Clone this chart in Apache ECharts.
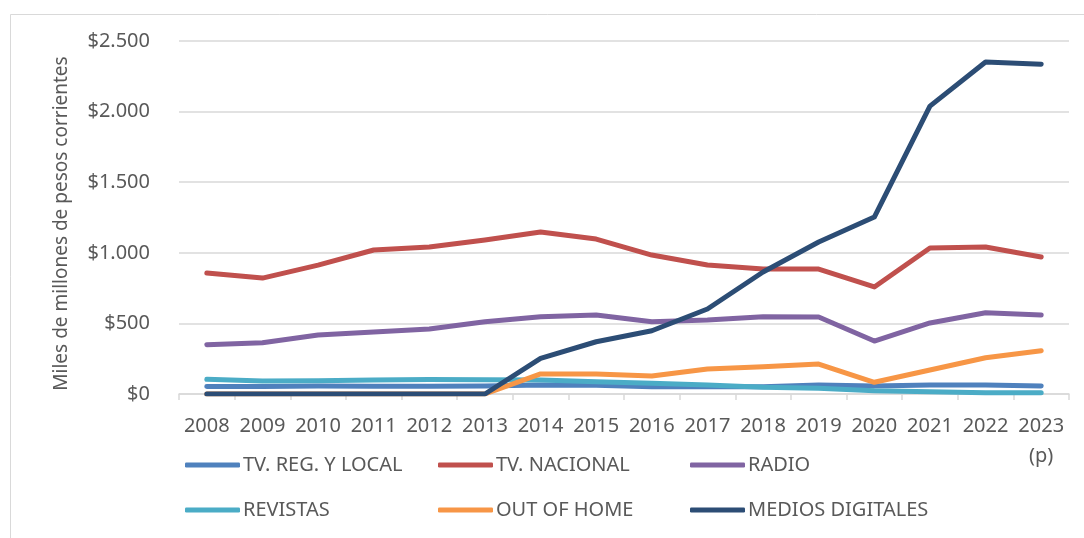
<!DOCTYPE html>
<html>
<head>
<meta charset="utf-8">
<script src="https://cdn.jsdelivr.net/npm/echarts@6/dist/echarts.min.js"></script>
<style>
  html, body { margin: 0; padding: 0; background: #fff; }
  #main { width: 1084px; height: 538px; }
</style>
</head>
<body>
<div id="main"></div>
<script>
// años (2023 es preliminar)
var years = ['2008', '2009', '2010', '2011', '2012', '2013', '2014', '2015',
  '2016', '2017', '2018', '2019', '2020', '2021', '2022', '2023\n(p)'];

// miles de millones de pesos corrientes
var tvRegLocal = [54, 53, 57, 55, 55, 57, 64, 62, 52, 52, 52, 64, 57, 64, 64, 57];
var tvNacional = [857, 821, 913, 1020, 1041, 1090, 1147, 1097, 984, 913, 885, 885, 758, 1034, 1041, 970];
var radio = [349, 363, 418, 439, 460, 512, 547, 559, 512, 524, 547, 545, 375, 503, 576, 559];
var revistas = [104, 92, 94, 99, 103, 101, 99, 87, 76, 64, 47, 40, 23, 16, 9, 9];
var outOfHome = [0, 0, 0, 0, 0, 0, 142, 142, 127, 177, 193, 212, 83, 170, 257, 307];
var mediosDigitales = [0, 0, 0, 0, 0, 0, 253, 370, 448, 602, 864, 1076, 1253, 2039, 2351, 2336];

var yTicks = [0, 500, 1000, 1500, 2000, 2500];

var font = '"Noto Sans", "Open Sans", sans-serif';
var txtColor = '#595959';

function serie(name, data, color) {
  return {
    name: name,
    type: 'line',
    data: data,
    symbol: 'none',
    lineStyle: { color: color, width: 5, cap: 'round', join: 'round' },
    itemStyle: { color: color }
  };
}

function leyenda(left, names) {
  return {
    left: left,
    top: 455,
    padding: 0,
    orient: 'vertical',
    itemGap: 25,
    itemWidth: 55,
    itemHeight: 5,
    icon: 'roundRect',
    data: names,
    textStyle: { color: txtColor, fontSize: 20, fontFamily: font, padding: [0, 0, 0, -2] }
  };
}

var chart = echarts.init(document.getElementById('main'));
chart.setOption({
  animation: false,
  backgroundColor: '#fff',
  graphic: [{
    type: 'rect',
    shape: { x: 10.5, y: 14.5, width: 1090, height: 540 },
    style: { fill: 'none', stroke: '#d9d9d9', lineWidth: 1 },
    silent: true
  }],
  grid: { left: 179, right: 15, top: 41, bottom: 144 },
  legend: [
    leyenda(185, ['TV. REG. Y LOCAL', 'REVISTAS']),
    leyenda(438, ['TV. NACIONAL', 'OUT OF HOME']),
    leyenda(690, ['RADIO', 'MEDIOS DIGITALES'])
  ],
  xAxis: {
    type: 'category',
    data: years,
    boundaryGap: true,
    axisLine: { lineStyle: { color: '#d9d9d9', width: 1.5 } },
    axisTick: { show: true, length: 6, lineStyle: { color: '#d9d9d9', width: 1.5 } },
    axisLabel: { color: txtColor, fontSize: 20, fontFamily: font, margin: 17, lineHeight: 30, interval: 0 }
  },
  yAxis: {
    type: 'value',
    min: yTicks[0],
    max: yTicks[yTicks.length - 1],
    interval: 500,
    name: 'Miles de millones de pesos corrientes',
    nameLocation: 'middle',
    nameGap: 108,
    nameRotate: 90,
    nameTextStyle: { color: txtColor, fontSize: 19, fontFamily: font, padding: [0, 12, 0, 0] },
    axisLine: { show: false },
    axisTick: { show: false },
    splitLine: { lineStyle: { color: '#d9d9d9', width: 1.5 } },
    axisLabel: {
      color: txtColor, fontSize: 20, fontFamily: font, margin: 29,
      formatter: function (v) {
        return '$' + String(v).replace(/\B(?=(\d{3})+(?!\d))/g, '.');
      }
    }
  },
  series: [
    serie('TV. REG. Y LOCAL', tvRegLocal, '#4F81BD'),
    serie('TV. NACIONAL', tvNacional, '#C0504D'),
    serie('RADIO', radio, '#8064A2'),
    serie('REVISTAS', revistas, '#4BACC6'),
    serie('OUT OF HOME', outOfHome, '#F79646'),
    serie('MEDIOS DIGITALES', mediosDigitales, '#2C4D75')
  ]
});
</script>
</body>
</html>
